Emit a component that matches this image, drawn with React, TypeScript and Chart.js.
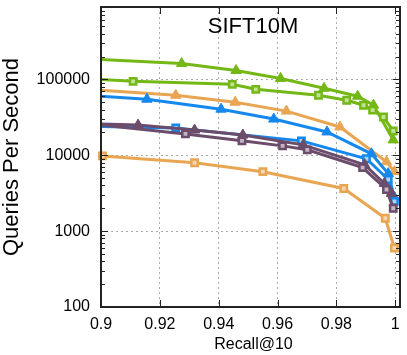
import React, { useEffect, useRef } from "react";
import { Chart, registerables } from "chart.js";

Chart.register(...registerables);

const FONT = "'Liberation Sans', Arial, Helvetica, sans-serif";

const xTicks = [0.9, 0.92, 0.94, 0.96, 0.98, 1];
const yTicks = [100, 1000, 10000, 100000];

const greenTriX = [0.89, 0.9274, 0.9459, 0.961, 0.9758, 0.9872, 0.9926, 0.9993];
const greenTriY = [191000, 161800, 131000, 103000, 76300, 60000, 45700, 15950];

const greenSqX = [0.89, 0.9109, 0.9446, 0.9526, 0.9739, 0.9835, 0.9892, 0.9923, 0.996, 0.9993];
const greenSqY = [105600, 94200, 86000, 74000, 61800, 53100, 45700, 39300, 31900, 20900];

const orangeTriX = [0.89, 0.9254, 0.9456, 0.963, 0.9812, 0.997, 0.9997];
const orangeTriY = [76300, 61800, 50000, 38200, 23600, 8220, 6080];

const blueTriX = [0.89, 0.9156, 0.9408, 0.9587, 0.9768, 0.9919, 0.9976, 0.9997];
const blueTriY = [63500, 54800, 40500, 30000, 20300, 10460, 5730, 2780];

const blueSqX = [0.89, 0.9254, 0.9681, 0.9902, 0.9976, 0.9997];
const blueSqY = [24300, 22860, 15480, 9000, 4790, 2470];

const purpleTriX = [0.89, 0.9126, 0.9318, 0.9482, 0.9687, 0.9896, 0.9963, 0.9987];
const purpleTriY = [26400, 25000, 21500, 18500, 13700, 7510, 4240, 3140];

const purpleSqX = [0.89, 0.9287, 0.9479, 0.9617, 0.9701, 0.9889, 0.997, 0.9993];
const purpleSqY = [27500, 19100, 15500, 13300, 11800, 6870, 3540, 2000];

const orangeSqX = [0.9005, 0.9318, 0.955, 0.9825, 0.9966, 0.9997];
const orangeSqY = [9800, 7960, 6080, 3650, 1480, 600];

const GREEN = "#74b816";
const GREEN_T = "#c2e197";
const ORANGE = "#e8a552";
const ORANGE_T = "#f5d6ae";
const BLUE = "#1588ee";
const BLUE_T = "#a8d3f8";
const PURPLE = "#6b4c6b";
const PURPLE_T = "#c4b4c4";

function pts(xs: number[], ys: number[]) {
  return xs.map((x, i) => ({ x, y: ys[i] }));
}

function tri(label: string, xs: number[], ys: number[], color: string) {
  return {
    label,
    data: pts(xs, ys),
    borderColor: color,
    backgroundColor: color,
    borderWidth: 3,
    pointStyle: "triangle",
    pointRadius: 6,
    pointBorderWidth: 1,
    pointBorderColor: color,
    pointBackgroundColor: color,
  };
}

function sq(label: string, xs: number[], ys: number[], color: string, tint: string, clip?: any) {
  const d: any = {
    label,
    data: pts(xs, ys),
    borderColor: color,
    backgroundColor: tint,
    borderWidth: 3,
    pointStyle: "rect",
    pointRadius: 4.5,
    pointBorderWidth: 2.5,
    pointBorderColor: color,
    pointBackgroundColor: tint,
  };
  if (clip !== undefined) d.clip = clip;
  return d;
}

const framePlugin = {
  id: "frame",
  afterDraw(chart: any) {
    const { ctx, chartArea } = chart;
    const { left, right, top, bottom } = chartArea;
    const xs = chart.scales.x;
    const ys = chart.scales.y;
    ctx.save();
    ctx.strokeStyle = "#222";
    ctx.lineWidth = 1;
    // y ticks (log major/minor)
    for (let d = 100; d < 1e7; d *= 10) {
      for (let k = 1; k <= 9; k++) {
        const v = k * d;
        if (v < ys.min || v > ys.max) continue;
        const y = Math.round(ys.getPixelForValue(v)) + 0.5;
        const len = k === 1 ? 7 : 4;
        ctx.beginPath();
        ctx.moveTo(left, y);
        ctx.lineTo(left + len, y);
        ctx.moveTo(right, y);
        ctx.lineTo(right - len, y);
        ctx.stroke();
      }
    }
    for (const v of xTicks) {
      const x = Math.round(xs.getPixelForValue(v)) + 0.5;
      ctx.beginPath();
      ctx.moveTo(x, bottom);
      ctx.lineTo(x, bottom - 7);
      ctx.moveTo(x, top);
      ctx.lineTo(x, top + 7);
      ctx.stroke();
    }
    ctx.lineWidth = 2;
    ctx.strokeRect(left, top, right - left, bottom - top);
    // titles
    ctx.fillStyle = "#000";
    ctx.font = `22px ${FONT}`;
    ctx.textAlign = "center";
    ctx.textBaseline = "middle";
    ctx.fillText("SIFT10M", 253, 27);
    ctx.font = `16px ${FONT}`;
    ctx.textBaseline = "alphabetic";
    ctx.fillText("Recall@10", 253.5, 349);
    ctx.save();
    ctx.translate(18, (top + bottom) / 2);
    ctx.rotate(-Math.PI / 2);
    ctx.font = `22px ${FONT}`;
    ctx.textAlign = "center";
    ctx.textBaseline = "alphabetic";
    ctx.fillText("Queries Per Second", 0, 0);
    ctx.restore();
    ctx.restore();
  },
};

export default function App() {
  const ref = useRef<HTMLCanvasElement | null>(null);
  useEffect(() => {
    document.body.style.margin = "0";
    if (!ref.current) return;
    const datasets = [
      tri("A", greenTriX, greenTriY, GREEN),
      sq("B", greenSqX, greenSqY, GREEN, GREEN_T),
      tri("C", orangeTriX, orangeTriY, ORANGE),
      tri("D", blueTriX, blueTriY, BLUE),
      sq("E", blueSqX, blueSqY, BLUE, BLUE_T),
      tri("F", purpleTriX, purpleTriY, PURPLE),
      sq("G", purpleSqX, purpleSqY, PURPLE, PURPLE_T),
      sq("H", orangeSqX, orangeSqY, ORANGE, ORANGE_T, false),
    ].reverse();
    const chart = new Chart(ref.current, {
      type: "line",
      data: { datasets: datasets as any },
      options: {
        animation: false,
        responsive: false,
        maintainAspectRatio: false,
        layout: { padding: { top: 3, right: 3, left: 0, bottom: 0 } },
        plugins: {
          legend: { display: false },
          title: { display: false },
          tooltip: { enabled: false },
        },
        scales: {
          x: {
            type: "linear",
            min: 0.9,
            max: 1.0016,
            afterBuildTicks: (s: any) => {
              s.ticks = xTicks.map((v) => ({ value: v }));
            },
            afterFit: (s: any) => {
              s.height = 48;
              s.paddingLeft = 0;
              s.paddingRight = 0;
            },
            ticks: {
              callback: (v: any) => String(+Number(v).toFixed(2)),
              font: { size: 16, family: FONT },
              color: "#000",
              padding: 8,
              maxRotation: 0,
              autoSkip: false,
            },
            grid: { color: "#aaaaaa", lineWidth: 1, drawTicks: false },
            border: { display: false, dash: [2, 3] },
          },
          y: {
            type: "logarithmic",
            min: 100,
            max: 900000,
            afterBuildTicks: (s: any) => {
              s.ticks = yTicks.map((v) => ({ value: v }));
            },
            afterFit: (s: any) => {
              s.width = 101;
              s.paddingTop = 0;
              s.paddingBottom = 0;
            },
            ticks: {
              callback: (v: any) => String(v),
              font: { size: 16, family: FONT },
              color: "#000",
              padding: 11,
              autoSkip: false,
            },
            grid: { color: "#aaaaaa", lineWidth: 1, drawTicks: false },
            border: { display: false, dash: [2, 3] },
          },
        },
      },
      plugins: [framePlugin],
    });
    return () => chart.destroy();
  }, []);
  return (
    <div style={{ width: 407, height: 355 }}>
      <canvas ref={ref} width={407} height={355} style={{ width: 407, height: 355, display: "block" }} />
    </div>
  );
}
